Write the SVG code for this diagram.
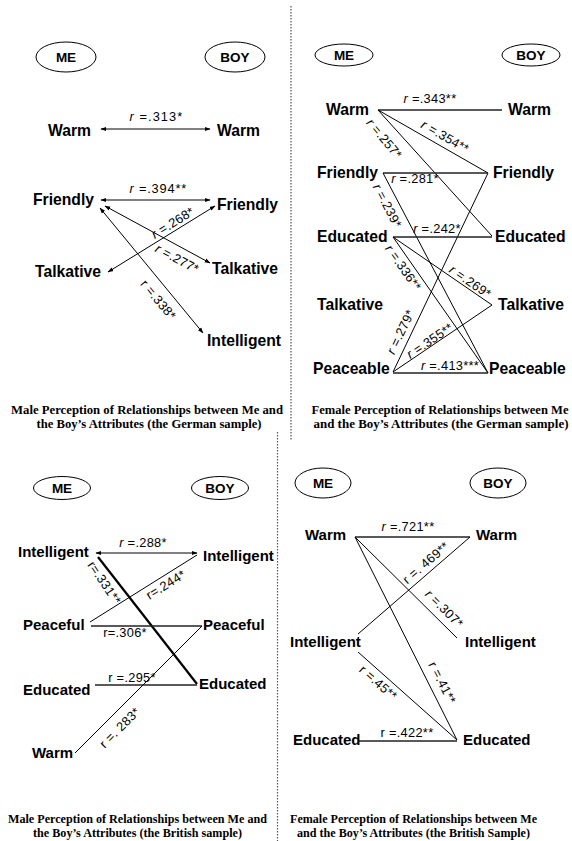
<svg xmlns="http://www.w3.org/2000/svg" width="572" height="841" viewBox="0 0 572 841">
<style>
.bg{fill:#fff}
.ell{fill:#fff;stroke:#000;stroke-width:1}
.hd{font-family:"Liberation Sans",Arial,sans-serif;font-weight:bold;font-size:13.5px;text-anchor:middle;fill:#000}
.n1{font-family:"Liberation Sans",Arial,sans-serif;font-weight:bold;font-size:15.7px;fill:#000}
.n2{font-family:"Liberation Sans",Arial,sans-serif;font-weight:bold;font-size:15px;fill:#000}
.lb{font-family:"Liberation Sans",Arial,sans-serif;font-size:12.8px;letter-spacing:0.3px;fill:#000;text-anchor:middle}
.it{font-style:italic}
.cap{font-family:"Liberation Serif","Times New Roman",serif;font-weight:bold;font-size:12px;fill:#000;text-anchor:middle}
.ln{stroke:#000;stroke-width:1;fill:none}
.hz{stroke:#222;stroke-width:1.3;fill:none}
.thick{stroke:#000;stroke-width:2.2;fill:none}
.arr{marker-start:url(#ah);marker-end:url(#ah)}
.div{stroke:#555;stroke-width:1.2;stroke-dasharray:1.5 1.5;fill:none}
</style>
<defs>
<marker id="ah" viewBox="0 0 10 10" refX="9" refY="5" markerWidth="6" markerHeight="6" markerUnits="userSpaceOnUse" orient="auto-start-reverse"><path d="M0,1.5 L10,5 L0,8.5 z" fill="#000"/></marker>
</defs>
<rect class="bg" x="0" y="0" width="572" height="841"/>

<g id="dividers">
<line class="div" x1="291" y1="6" x2="291" y2="440"/>
<line class="div" x1="277.5" y1="432" x2="277.5" y2="841"/>
</g>

<g id="connectors">
<!-- Q1 -->
<line class="ln arr" x1="101" y1="129" x2="210" y2="129"/>
<text class="lb" x="156" y="121" textLength="53"><tspan class="it">r</tspan> =.313*</text>
<line class="ln arr" x1="101" y1="200" x2="210" y2="200"/>
<text class="lb" x="158" y="193" textLength="57"><tspan class="it">r</tspan> =.394**</text>
<line class="ln arr" x1="108" y1="272" x2="215" y2="206"/>
<text class="lb" transform="translate(173,223) rotate(-31.7)" y="4"><tspan class="it">r</tspan> =.268*</text>
<line class="ln arr" x1="105" y1="206" x2="210" y2="263"/>
<text class="lb" transform="translate(177,259) rotate(28.5)" y="4"><tspan class="it">r</tspan> =.277*</text>
<line class="ln arr" x1="100" y1="208" x2="203" y2="333"/>
<text class="lb" transform="translate(158,300) rotate(50.5)" y="4">r =.338*</text>

<!-- Q2 -->
<line class="hz" x1="378" y1="110" x2="502" y2="110"/>
<text class="lb" x="430" y="103"><tspan class="it">r</tspan> =.343**</text>
<line class="ln" x1="378" y1="110" x2="488" y2="173"/>
<text class="lb" transform="translate(445,137) rotate(29.8)" y="4"><tspan class="it">r</tspan> =.354**</text>
<line class="ln" x1="378" y1="110" x2="492" y2="236"/>
<text class="lb" transform="translate(384,139) rotate(50)" y="4"><tspan class="it">r</tspan> =.257*</text>
<line class="hz" x1="383" y1="173" x2="488" y2="173"/>
<text class="lb" x="415" y="183"><tspan class="it">r</tspan> =.281*</text>
<line class="ln" x1="383" y1="173" x2="488" y2="373"/>
<text class="lb" transform="translate(387,206) rotate(62.3)" y="4"><tspan class="it">r</tspan> =.239*</text>
<line class="ln" x1="488" y1="173" x2="393" y2="372"/>
<text class="lb" transform="translate(401,332) rotate(-64.5)" y="4"><tspan class="it">r</tspan> =.279*</text>
<line class="hz" x1="393" y1="237" x2="492" y2="237"/>
<text class="lb" x="437" y="233"><tspan class="it">r</tspan> =.242*</text>
<line class="ln" x1="393" y1="237" x2="492" y2="305"/>
<text class="lb" transform="translate(470,282) rotate(34.5)" y="4"><tspan class="it">r</tspan> =.269*</text>
<line class="ln" x1="393" y1="237" x2="488" y2="373"/>
<text class="lb" transform="translate(403,268) rotate(55)" y="4"><tspan class="it">r</tspan> =.336**</text>
<line class="ln" x1="393" y1="372" x2="492" y2="305"/>
<text class="lb" transform="translate(430,341) rotate(-34)" y="4"><tspan class="it">r</tspan> =.355**</text>
<line class="hz" x1="393" y1="373" x2="488" y2="373"/>
<text class="lb" x="450" y="370"><tspan class="it">r</tspan> =.413***</text>

<!-- Q3 -->
<line class="ln arr" x1="96" y1="553" x2="197" y2="553"/>
<text class="lb" x="143" y="547"><tspan class="it">r</tspan> =.288*</text>
<line class="thick" x1="98" y1="557" x2="197" y2="684"/>
<text class="lb" transform="translate(104,583) rotate(56)" y="4">r=.331**</text>
<line class="ln" x1="90" y1="622" x2="197" y2="555"/>
<text class="lb" transform="translate(166,585) rotate(-32)" y="4">r=.244*</text>
<line class="hz" x1="91" y1="626" x2="202" y2="626"/>
<text class="lb" x="125" y="637">r=.306*</text>
<line class="hz" x1="95" y1="685" x2="197" y2="685"/>
<text class="lb" x="132" y="682">r =.295*</text>
<line class="ln" x1="75" y1="753" x2="202" y2="626"/>
<text class="lb" transform="translate(120,728) rotate(-45)" y="4">r =. 283*</text>

<!-- Q4 -->
<line class="hz" x1="355" y1="537" x2="470" y2="537"/>
<text class="lb" x="408" y="531"><tspan class="it">r</tspan> =.721**</text>
<line class="ln" x1="470" y1="537" x2="358" y2="634"/>
<text class="lb" transform="translate(426,563) rotate(-41)" y="4">r =. 469**</text>
<line class="ln" x1="355" y1="537" x2="457" y2="638"/>
<text class="lb" transform="translate(444,609) rotate(45)" y="4"><tspan class="it">r</tspan> =.307*</text>
<line class="ln" x1="355" y1="537" x2="457" y2="740"/>
<text class="lb" transform="translate(442,683) rotate(63)" y="4">r =.41**</text>
<line class="ln" x1="358" y1="652" x2="457" y2="740"/>
<text class="lb" transform="translate(378,683) rotate(41.6)" y="4">r =.45**</text>
<line class="hz" x1="358" y1="741" x2="457" y2="741"/>
<text class="lb" x="407" y="737">r =.422**</text>
</g>

<!-- Q1 nodes -->
<g id="q1-me"><ellipse class="ell" cx="66" cy="57" rx="30" ry="15"/><text class="hd" x="66" y="62">ME</text></g>
<g id="q1-boy"><ellipse class="ell" cx="235" cy="57" rx="30" ry="15"/><text class="hd" x="235" y="62">BOY</text></g>
<g id="q1-me-warm"><text class="n1" x="48" y="136">Warm</text></g>
<g id="q1-boy-warm"><text class="n1" x="217" y="136">Warm</text></g>
<g id="q1-me-friendly"><text class="n1" x="33" y="205">Friendly</text></g>
<g id="q1-boy-friendly"><text class="n1" x="217" y="210">Friendly</text></g>
<g id="q1-me-talkative"><text class="n1" x="35" y="277">Talkative</text></g>
<g id="q1-boy-talkative"><text class="n1" x="212" y="274">Talkative</text></g>
<g id="q1-boy-intelligent"><text class="n1" x="207" y="346">Intelligent</text></g>
<g id="q1-caption">
<text class="cap" x="147" y="414" textLength="272" lengthAdjust="spacingAndGlyphs">Male Perception of Relationships between Me and</text>
<text class="cap" x="149" y="428" textLength="225" lengthAdjust="spacingAndGlyphs">the Boy’s Attributes (the German sample)</text>
</g>

<!-- Q2 nodes -->
<g id="q2-me"><ellipse class="ell" cx="344" cy="55" rx="29" ry="11"/><text class="hd" x="344" y="60">ME</text></g>
<g id="q2-boy"><ellipse class="ell" cx="531" cy="55" rx="29" ry="11"/><text class="hd" x="531" y="60">BOY</text></g>
<g id="q2-me-warm"><text class="n1" x="326" y="115">Warm</text></g>
<g id="q2-boy-warm"><text class="n1" x="508" y="115">Warm</text></g>
<g id="q2-me-friendly"><text class="n1" x="317" y="178">Friendly</text></g>
<g id="q2-boy-friendly"><text class="n1" x="493" y="178">Friendly</text></g>
<g id="q2-me-educated"><text class="n1" x="317" y="242">Educated</text></g>
<g id="q2-boy-educated"><text class="n1" x="495" y="242">Educated</text></g>
<g id="q2-me-talkative"><text class="n1" x="317" y="310">Talkative</text></g>
<g id="q2-boy-talkative"><text class="n1" x="498" y="310">Talkative</text></g>
<g id="q2-me-peaceable"><text class="n1" x="313" y="374">Peaceable</text></g>
<g id="q2-boy-peaceable"><text class="n1" x="489" y="374">Peaceable</text></g>
<g id="q2-caption">
<text class="cap" x="440" y="414" textLength="257" lengthAdjust="spacingAndGlyphs">Female Perception of Relationships between Me</text>
<text class="cap" x="441" y="428" textLength="255" lengthAdjust="spacingAndGlyphs">and the Boy’s Attributes (the German sample)</text>
</g>

<!-- Q3 nodes -->
<g id="q3-me"><ellipse class="ell" cx="62" cy="488" rx="28.5" ry="11.5"/><text class="hd" x="62" y="493">ME</text></g>
<g id="q3-boy"><ellipse class="ell" cx="220" cy="488" rx="28.5" ry="11.5"/><text class="hd" x="220" y="493">BOY</text></g>
<g id="q3-me-intelligent"><text class="n2" x="18" y="557">Intelligent</text></g>
<g id="q3-boy-intelligent"><text class="n2" x="203" y="561">Intelligent</text></g>
<g id="q3-me-peaceful"><text class="n2" x="23" y="630">Peaceful</text></g>
<g id="q3-boy-peaceful"><text class="n2" x="203" y="630">Peaceful</text></g>
<g id="q3-me-educated"><text class="n2" x="23" y="695">Educated</text></g>
<g id="q3-boy-educated"><text class="n2" x="199" y="689">Educated</text></g>
<g id="q3-me-warm"><text class="n2" x="32" y="758">Warm</text></g>
<g id="q3-caption">
<text class="cap" x="137.5" y="823" textLength="259" lengthAdjust="spacingAndGlyphs">Male Perception of Relationships between Me and</text>
<text class="cap" x="137.5" y="837" textLength="209" lengthAdjust="spacingAndGlyphs">the Boy’s Attributes (the British sample)</text>
</g>

<!-- Q4 nodes -->
<g id="q4-me"><ellipse class="ell" cx="323" cy="483" rx="28" ry="15"/><text class="hd" x="323" y="488">ME</text></g>
<g id="q4-boy"><ellipse class="ell" cx="498" cy="483" rx="28" ry="15"/><text class="hd" x="498" y="488">BOY</text></g>
<g id="q4-me-warm"><text class="n2" x="305" y="540">Warm</text></g>
<g id="q4-boy-warm"><text class="n2" x="476" y="540">Warm</text></g>
<g id="q4-me-intelligent"><text class="n2" x="290" y="647">Intelligent</text></g>
<g id="q4-boy-intelligent"><text class="n2" x="465" y="647">Intelligent</text></g>
<g id="q4-me-educated"><text class="n2" x="293" y="745">Educated</text></g>
<g id="q4-boy-educated"><text class="n2" x="463" y="745">Educated</text></g>
<g id="q4-caption">
<text class="cap" x="413.5" y="823" textLength="247" lengthAdjust="spacingAndGlyphs">Female Perception of Relationships between Me</text>
<text class="cap" x="413.5" y="837" textLength="233" lengthAdjust="spacingAndGlyphs">and the Boy’s Attributes (the British Sample)</text>
</g>
</svg>
